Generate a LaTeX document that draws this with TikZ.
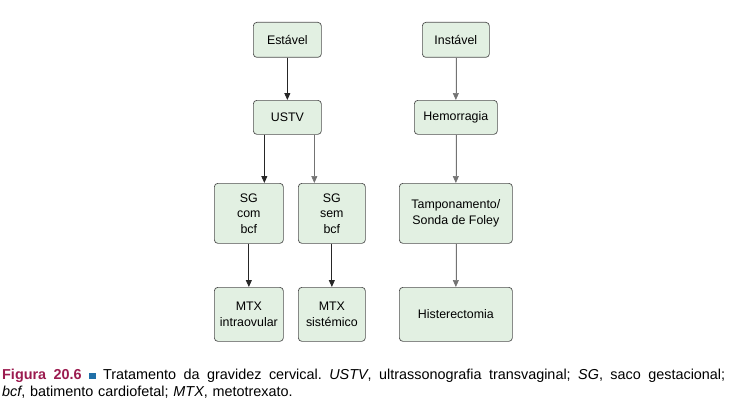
\documentclass[tikz,border=0pt]{standalone}
\usepackage{fontspec}
\setmainfont{Liberation Sans}
\usetikzlibrary{arrows.meta}
\definecolor{boxfill}{HTML}{E2F0E2}
\definecolor{boxline}{HTML}{505050}
\definecolor{figred}{HTML}{9B1B4F}
\definecolor{figblue}{HTML}{2070A8}
\tikzset{
  bx/.style={draw=boxline, fill=boxfill, rounded corners=3.5pt, line width=0.7pt,
    align=center, font=\fontsize{12.4}{15.5}\selectfont, inner sep=0pt, anchor=north west},
  darr/.style={-{Triangle[length=7pt,width=6pt]}, line width=0.8pt, draw=black!85, fill=black!85},
  garr/.style={-{Triangle[length=7pt,width=6pt]}, line width=0.6pt, draw=black!55, fill=black!55},
}
\begin{document}
\begin{tikzpicture}[x=1pt,y=-1pt]
\useasboundingbox (0,0) rectangle (730,412);
\node[bx, minimum width=68pt, minimum height=35pt] (est) at (253,22) {Estável};
\node[bx, minimum width=67pt, minimum height=35pt] (inst) at (422,22) {Instável};
\node[bx, minimum width=68pt, minimum height=34pt] (ustv) at (253,100) {USTV};
\node[bx, minimum width=83pt, minimum height=34pt] (hem) at (414,100) {Hemorragia};
\node[bx, minimum width=69pt, minimum height=60pt] (sgc) at (214,183) {SG\\com\\bcf};
\node[bx, minimum width=67pt, minimum height=60pt] (sgs) at (298,183) {SG\\sem\\bcf};
\node[bx, minimum width=113pt, minimum height=60pt] (tamp) at (399,183) {Tamponamento/\\Sonda de Foley};
\node[bx, minimum width=69pt, minimum height=54pt] (mtxi) at (214,287) {MTX\\intraovular};
\node[bx, minimum width=67pt, minimum height=54pt] (mtxs) at (298,287) {MTX\\sistémico};
\node[bx, minimum width=113pt, minimum height=54pt] (hist) at (399,287) {Histerectomia};
\draw[darr] (est.south) -- (ustv.north);
\draw[garr] (inst.south) -- (hem.north);
\coordinate (a1) at ([xshift=-23pt]ustv.south);
\coordinate (a2) at ([xshift=27pt]ustv.south);
\draw[darr] (a1) -- (a1 |- sgc.north);
\draw[garr] (a2) -- (a2 |- sgs.north);
\draw[garr] (hem.south) -- (tamp.north);
\draw[darr] (sgc.south) -- (mtxi.north);
\draw[darr] (sgs.south) -- (mtxs.north);
\draw[garr] (tamp.south) -- (hist.north);
\node[anchor=north west, inner sep=0pt, text width=730pt, align=left,
  font=\frenchspacing\fontsize{14.4}{17.5}\selectfont] (cap) at (2,368.5)
  {\makebox[723pt][s]{\spaceskip=0.28em plus 1em\relax{\bfseries\color{figred}Figura 20.6} {\color{figblue}\rule{6.5pt}{6.5pt}} Tratamento da gravidez cervical. \textit{USTV}, ultrassonografia transvaginal; \textit{SG}, saco gestacional;}\\
  \textit{bcf}, batimento cardiofetal; \textit{MTX}, metotrexato.};
\end{tikzpicture}
\end{document}
